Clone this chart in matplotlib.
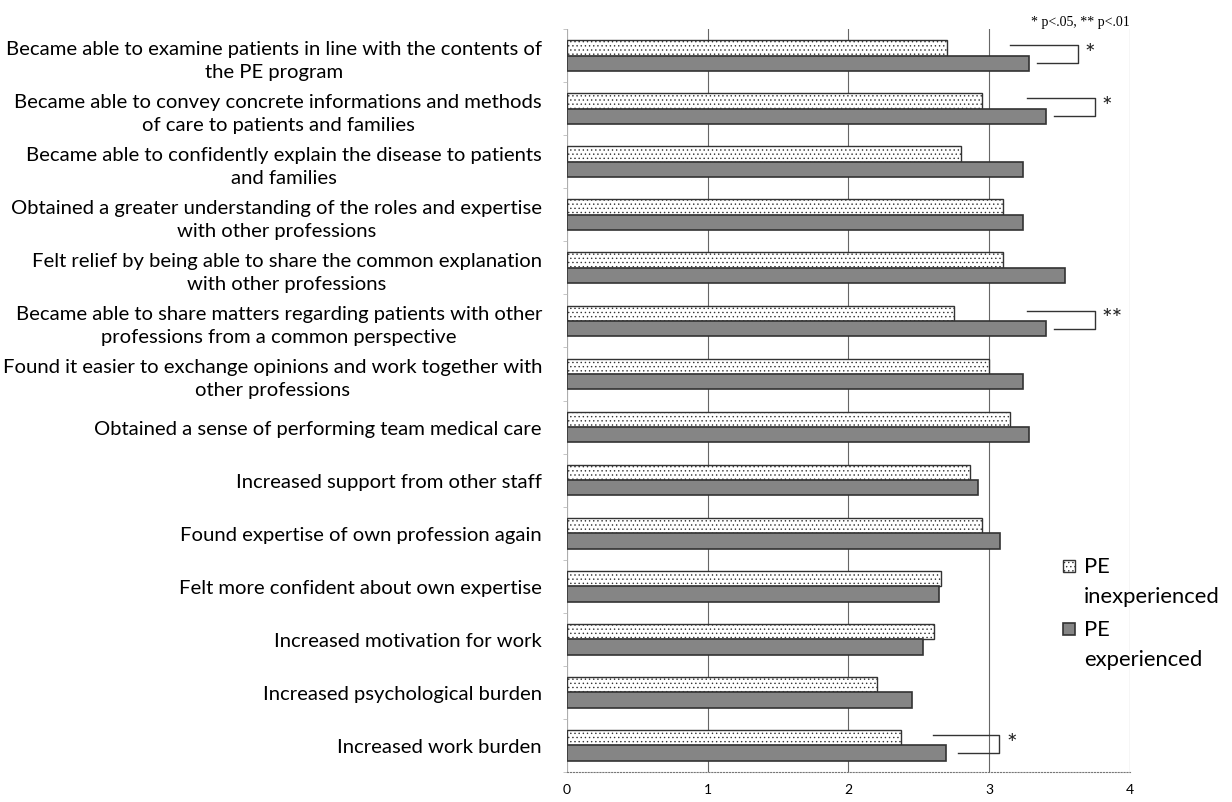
import numpy as np
import matplotlib.pyplot as plt
from matplotlib.patches import Rectangle

items = [
    "Became able to examine patients in line with the contents of\nthe PE program",
    "Became able to convey concrete informations and methods\nof care to patients and families",
    "Became able to confidently explain the disease to patients\nand families",
    "Obtained a greater understanding of the roles and expertise\nwith other professions",
    "Felt relief by being able to share the common explanation\nwith other professions",
    "Became able to share matters regarding patients with other\nprofessions from a common perspective",
    "Found it easier to exchange opinions and work together with\nother professions",
    "Obtained a sense of performing team medical care",
    "Increased support from other staff",
    "Found expertise of own profession again",
    "Felt more confident about own expertise",
    "Increased motivation for work",
    "Increased psychological burden",
    "Increased work burden",
]
inexperienced = [2.70, 2.95, 2.80, 3.10, 3.10, 2.75, 3.00, 3.15, 2.86, 2.95, 2.66, 2.61, 2.20, 2.37]
experienced = [3.28, 3.40, 3.24, 3.24, 3.54, 3.40, 3.24, 3.28, 2.92, 3.08, 2.64, 2.53, 2.45, 2.69]
series_names = [("PE", "inexperienced"), ("PE", "experienced")]

# significance marks: row index, bracket start (upper), start (lower), right edge, label
sig_rows = [0, 1, 5, 13]
sig_upper = [3.15, 3.27, 3.27, 2.60]
sig_lower = [3.34, 3.46, 3.46, 2.78]
sig_right = [3.63, 3.75, 3.75, 3.07]
sig_labels = ["*", "*", "**", "*"]

plt.rcParams['font.family'] = ['Lato', 'DejaVu Sans']
plt.rcParams['hatch.color'] = '#a8a8a8'
plt.rcParams['hatch.linewidth'] = 0.5

fig = plt.figure(figsize=(12.32, 8.03), dpi=100)
ax = fig.add_axes([0.4602, 0.0374, 0.4570, 0.9252])

n = len(items)
y = np.arange(n)
h = 0.29
light_style = dict(facecolor='white', edgecolor='#333333', linewidth=1.0, hatch='....')
dark_style = dict(facecolor='#858585', edgecolor='#333333', linewidth=1.2)

ax.barh(y - h / 2, inexperienced, height=h, zorder=3, **light_style)
ax.barh(y + h / 2, experienced, height=h, zorder=3, **dark_style)

for r, a, b, c, s in zip(sig_rows, sig_upper, sig_lower, sig_right, sig_labels):
    y1 = r - h / 2 - 0.05
    y2 = r + h / 2
    ax.plot([a, c, c, b], [y1, y1, y2, y2], color='#333333', lw=1.0,
            clip_on=False, zorder=4)
    ax.text(c + 0.05, y1 + 0.15, s, ha='left', va='center', fontsize=18,
            color='#222222', clip_on=False)

ax.set_xlim(0, 4)
ax.set_ylim(n - 0.5, -0.5)
ax.set_xticks([0, 1, 2, 3, 4])
ax.tick_params(axis='x', length=0, labelsize=10, pad=8)
ax.set_yticks(y)
ax.set_yticklabels(items, fontsize=14.6, linespacing=1.4, multialignment='center')
ax.tick_params(axis='y', length=0, pad=18)
ax.set_yticks(np.arange(n + 1) - 0.5, minor=True)
ax.tick_params(axis='y', which='minor', length=3, color='#bbbbbb', width=0.6)

ax.grid(axis='x', color='#666666', lw=0.8, zorder=0)
for side in ['top', 'right']:
    ax.spines[side].set_visible(False)
ax.spines['left'].set_color('#bbbbbb')
ax.spines['left'].set_linewidth(0.6)
ax.spines['bottom'].set_color('#777777')
ax.spines['bottom'].set_linestyle(':')

fig.text(0.9172, 0.972, "* p<.05, ** p<.01", ha='right', va='center',
         fontsize=10, family='Liberation Serif')

# legend drawn by hand: key square plus two-line label
key_x, text_x = 1063 / 1232, 1084 / 1232
key_w, key_h = 12 / 1232, 12 / 803
for (l1, l2), style, top in zip(series_names, [light_style, dark_style], [567, 630]):
    yc = 1 - top / 803
    fig.add_artist(Rectangle((key_x, yc - key_h / 2), key_w, key_h,
                             transform=fig.transFigure, **style))
    fig.text(text_x, yc, l1, ha='left', va='center', fontsize=15.8)
    fig.text(text_x, yc - 30 / 803, l2, ha='left', va='center', fontsize=15.8)

fig.savefig('out.png', dpi=100)
